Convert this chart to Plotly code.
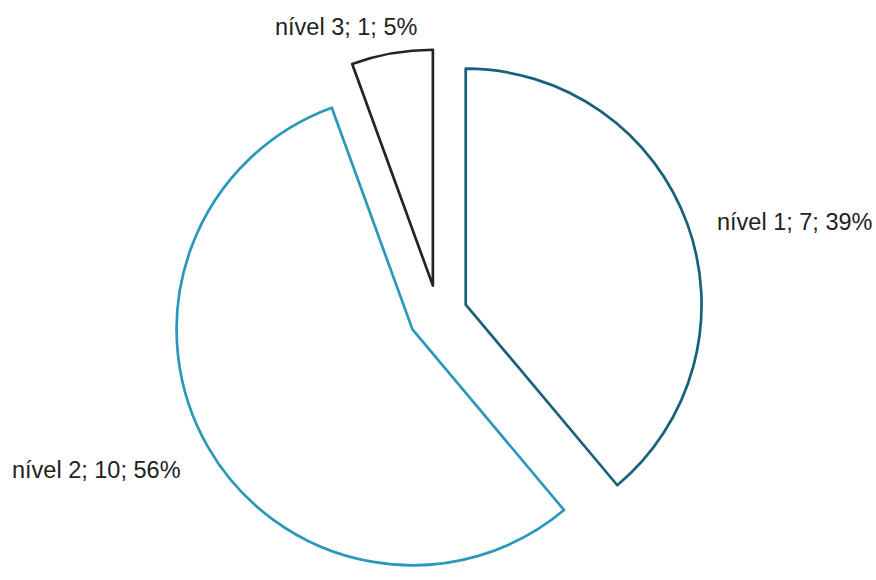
import plotly.graph_objects as go

labels = ["nível 1", "nível 2", "nível 3"]
values = [7, 10, 1]
percents = ["39%", "56%", "5%"]
texts = [f"{l}; {v}; {p}" for l, v, p in zip(labels, values, percents)]

line_colors = ["#17627A", "#2A98BC", "#1E2626"]

fig = go.Figure(go.Pie(
    labels=labels,
    values=values,
    textinfo="none",
    sort=False,
    direction="clockwise",
    rotation=0,
    pull=[0.125, 0.125, 0.125],
    marker=dict(colors=["white"] * 3, line=dict(color=line_colors, width=2.7)),
    domain=dict(x=[0, 1], y=[0, 0.915]),
    showlegend=False,
    hoverinfo="none",
))

# label placement (paper coords, anchors)
label_pos = [(0.816, 0.617, "left"), (0.0114, 0.19, "left"), (0.395, 0.953, "center")]
for t, (x, y, xa) in zip(texts, label_pos):
    fig.add_annotation(
        x=x, y=y, xref="paper", yref="paper", text=t, showarrow=False,
        xanchor=xa, yanchor="middle",
        font=dict(family="Liberation Sans, Arial, sans-serif", size=23.5, color="#222222"),
    )

fig.update_layout(
    width=876,
    height=580,
    margin=dict(l=0, r=0, t=0, b=0),
    paper_bgcolor="white",
    plot_bgcolor="white",
)

fig.write_html("out.html")
